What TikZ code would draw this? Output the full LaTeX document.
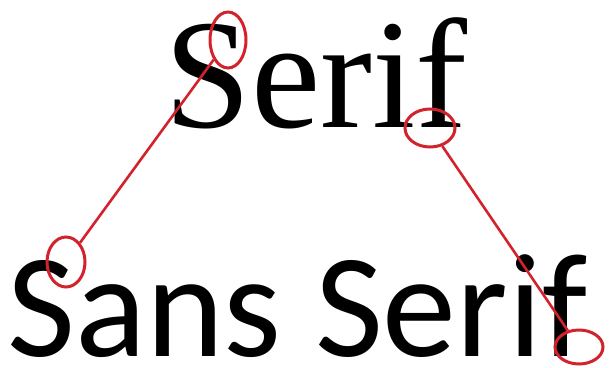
\documentclass[tikz,border=0pt]{standalone}
\usepackage{fontspec}
\usetikzlibrary{shapes.geometric}
\newfontfamily\seriffont{Liberation Serif}
\newfontfamily\plainsans{Carlito}
\definecolor{markred}{RGB}{210,35,45}

\begin{document}
\begin{tikzpicture}[x=1pt, y=1pt,
  ring/.style={draw=markred, line width=3pt, ellipse, inner sep=0pt},
  link/.style={draw=markred, line width=2.6pt}]
  \useasboundingbox (0,0) rectangle (609,367);

  % The two words
  \node[font=\seriffont\fontsize{156}{156}\selectfont, anchor=base, inner sep=0pt]
    (serif) at (316,239) {Serif};
  \node[font=\plainsans\fontsize{148}{148}\selectfont, anchor=base west, inner sep=0pt]
    (sans) at (7,11) {Sans Serif};

  % Rings round the strokes
  \node[ring, minimum width=36pt, minimum height=56pt] (topS)  at (228,327) {};
  \node[ring, minimum width=50pt, minimum height=38pt] (footF) at (430,239) {};
  \node[ring, minimum width=38pt, minimum height=50pt] (endS)  at (66,105)  {};
  \node[ring, minimum width=48pt, minimum height=34pt] (stemF) at (579,20)  {};

  % Links
  \draw[link] (topS) -- (endS);
  \draw[link] (footF) -- (stemF);
\end{tikzpicture}
\end{document}
